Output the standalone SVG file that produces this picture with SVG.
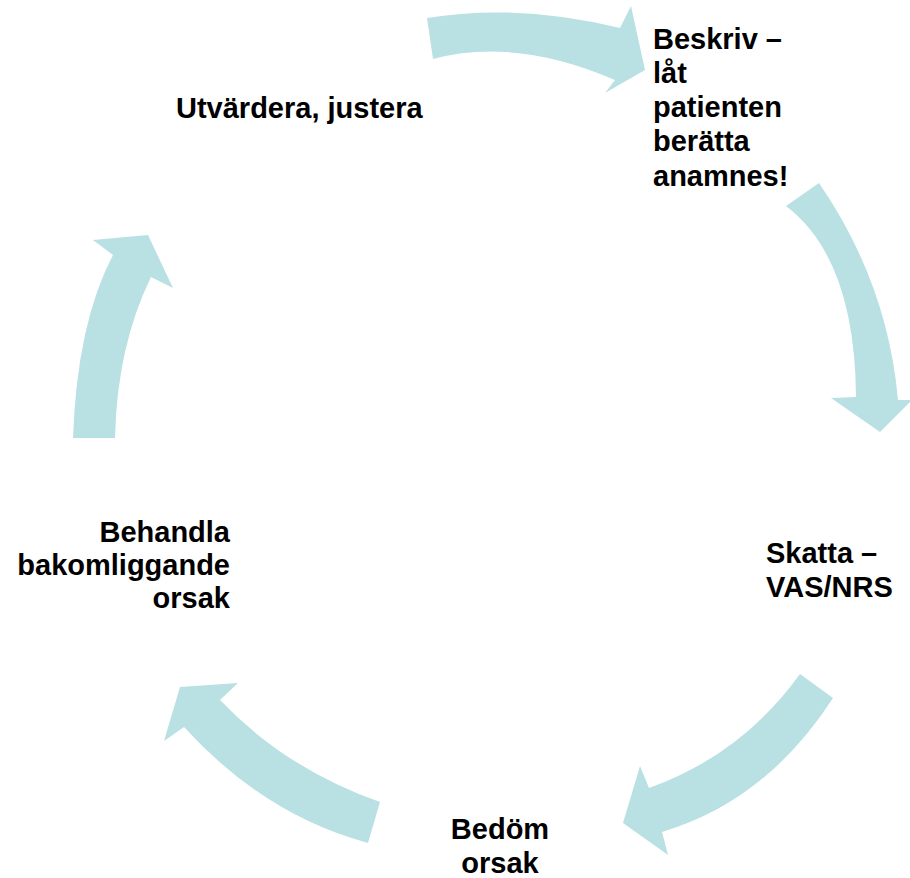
<svg xmlns="http://www.w3.org/2000/svg" width="910" height="878" viewBox="0 0 910 878">
<style>
.arrow{fill:#B9E0E3;stroke:none}
.lbl{font-family:"Liberation Sans",Arial,sans-serif;font-weight:bold;font-size:29px;fill:#000}
</style>
<rect width="910" height="878" fill="#fff"/>
<g id="connectors">
<path id="arrow-top" class="arrow" d="M427,18 Q516,3 620,28 L631,6 L645,70 L605,93 L615,80 Q516,37 433,59 Z"/>
<path id="arrow-right" class="arrow" d="M819,183 Q887.5,282.5 898,400 L912,400 L880,432 L831,398 L856,397 Q855,258.5 786,206 Z"/>
<path id="arrow-bottom-right" class="arrow" d="M833,698 Q766.5,801 662,832 L668,855 L623,823 L640,766 L649,788 Q741.5,755 800,674 Z"/>
<path id="arrow-bottom-left" class="arrow" d="M380,802 Q286,769 220,700 L238,683 L180,687 L164,741 L184,727 Q264,815 368,843 Z"/>
<path id="arrow-left" class="arrow" d="M115,438 Q117,346.5 151,277 L173,288 L148,235 L93,240 L113,255 Q77,323.5 73,438 Z"/>
</g>
<g id="node-utvardera">
<text class="lbl" x="176" y="118">Utvärdera, justera</text>
</g>
<g id="node-beskriv">
<text class="lbl" x="653" y="48.5">Beskriv –</text>
<text class="lbl" x="653" y="82.8">låt</text>
<text class="lbl" x="653" y="117">patienten</text>
<text class="lbl" x="653" y="151.3">berätta</text>
<text class="lbl" x="653" y="185.6">anamnes!</text>
</g>
<g id="node-skatta">
<text class="lbl" x="766" y="563">Skatta –</text>
<text class="lbl" x="766" y="597">VAS/NRS</text>
</g>
<g id="node-bedom">
<text class="lbl" x="500" y="839" text-anchor="middle">Bedöm</text>
<text class="lbl" x="500" y="873" text-anchor="middle">orsak</text>
</g>
<g id="node-behandla">
<text class="lbl" x="230" y="541.5" text-anchor="end">Behandla</text>
<text class="lbl" x="230" y="574.5" text-anchor="end">bakomliggande</text>
<text class="lbl" x="230" y="607.5" text-anchor="end">orsak</text>
</g>
</svg>
